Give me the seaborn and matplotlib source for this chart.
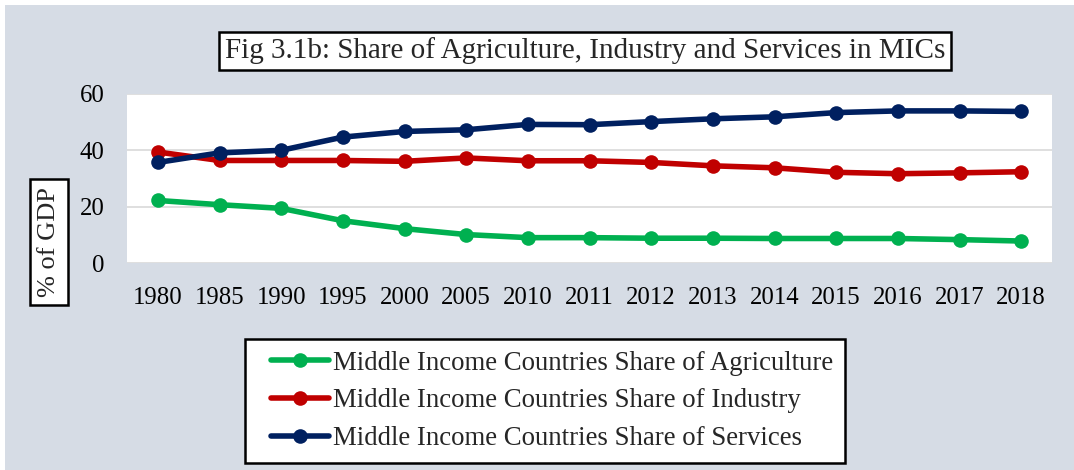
import matplotlib
matplotlib.use("Agg")
import matplotlib.pyplot as plt
import seaborn as sns
import pandas as pd
from matplotlib.patches import Rectangle
from matplotlib.lines import Line2D
from matplotlib.legend_handler import HandlerLine2D

years = ["1980", "1985", "1990", "1995", "2000", "2005", "2010", "2011",
         "2012", "2013", "2014", "2015", "2016", "2017", "2018"]
agriculture = [22.2, 20.7, 19.4, 15.0, 12.2, 10.1, 9.0, 9.0, 8.8, 8.8, 8.7, 8.7, 8.7, 8.3, 7.8]
industry = [39.4, 36.4, 36.4, 36.4, 36.1, 37.3, 36.3, 36.3, 35.7, 34.5, 33.8, 32.2, 31.7, 32.0, 32.4]
services = [35.7, 39.1, 40.0, 44.7, 46.7, 47.3, 49.2, 49.1, 50.2, 51.2, 51.9, 53.4, 54.0, 54.0, 53.8]
series_names = ["Middle Income Countries Share of Agriculture",
                "Middle Income Countries Share of Industry",
                "Middle Income Countries Share of Services"]
title = "Fig 3.1b: Share of Agriculture, Industry and Services in MICs"
ylabel = "% of GDP"
yticks = [0, 20, 40, 60]

colors = ["#00B050", "#C00000", "#002060"]
bg = "#D6DCE5"

df = pd.concat([
    pd.DataFrame({"Year": years, "Value": vals, "Series": name})
    for name, vals in zip(series_names, [agriculture, industry, services])
], ignore_index=True)

sns.set_theme(style="white")
plt.rcParams["font.family"] = ["Liberation Serif", "DejaVu Serif"]

fig = plt.figure(figsize=(10.74, 4.70), dpi=100)
fig.patch.set_facecolor("white")
fig.add_artist(Rectangle((5/1074, 0), 1 - 5/1074, 1 - 5/470, transform=fig.transFigure,
                         facecolor=bg, edgecolor="none", zorder=-10))

ax = fig.add_axes([127/1074, 1 - 263/470, (1052 - 127)/1074, (263 - 94)/470])
ax.set_facecolor("white")

sns.lineplot(data=df, x="Year", y="Value", hue="Series", palette=colors,
             marker="o", markersize=10.5, markeredgewidth=0, linewidth=4,
             sort=False, ax=ax, legend=False)

ax.set_xlim(-0.5, len(years) - 0.5)
ax.set_ylim(0, 60)
ax.set_yticks(yticks)
ax.yaxis.grid(True, color="#D9D9D9", linewidth=1.2)
ax.xaxis.grid(False)
ax.set_axisbelow(True)
for s in ax.spines.values():
    s.set_visible(False)
ax.tick_params(axis="both", length=0, labelsize=17.8, colors="black")
ax.tick_params(axis="y", pad=16)
ax.tick_params(axis="x", pad=17)
ax.set_xlabel("")
ax.set_ylabel("")

fig.text(585/1074, 1 - 51/470, title, ha="center", va="center", fontsize=21,
         bbox=dict(boxstyle="square,pad=0.2", facecolor="white", edgecolor="black", linewidth=1.8))
fig.text(49/1074, 1 - 242/470, ylabel, ha="center", va="center", rotation=90, fontsize=19,
         bbox=dict(boxstyle="square,pad=0.3", facecolor="white", edgecolor="black", linewidth=1.8))

handles = [Line2D([], [], color=c, marker="o", markersize=10.5, markeredgewidth=0, linewidth=4)
           for c in colors]
leg = fig.legend(handles, series_names, loc="center", bbox_to_anchor=(545/1074, 1 - 401/470),
                 fontsize=19.3, frameon=True, fancybox=False, handlelength=2.72,
                 handletextpad=0.15, labelspacing=0.48, borderpad=0.42,
                 handler_map={Line2D: HandlerLine2D(xpad=0.56)})
leg.get_frame().set_edgecolor("black")
leg.get_frame().set_linewidth(1.8)
leg.get_frame().set_facecolor("white")
leg.get_frame().set_alpha(1)

fig.savefig("out.png", dpi=100, facecolor=fig.get_facecolor())
